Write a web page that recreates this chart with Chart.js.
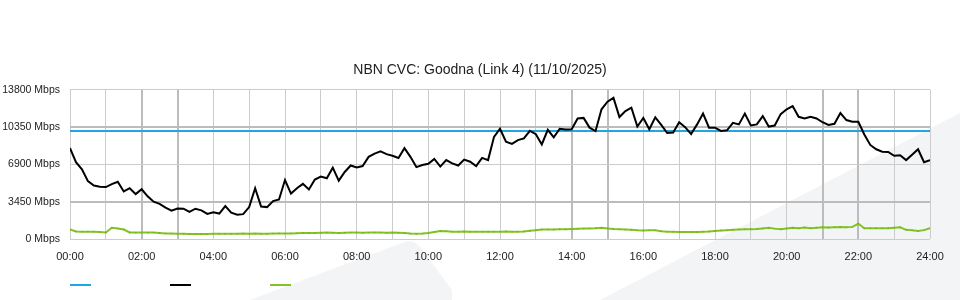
<!DOCTYPE html>
<html>
<head>
<meta charset="utf-8">
<title>NBN CVC: Goodna (Link 4)</title>
<script src="https://cdn.jsdelivr.net/npm/chart.js@4.4.1/dist/chart.umd.min.js"></script>
<style>
  html, body { margin: 0; padding: 0; background: #fff; }
  canvas { display: block; }
</style>
</head>
<body>
<canvas id="cvcChart" width="960" height="300"></canvas>
<script>
// one sample every 10 minutes, 00:00 .. 24:00
const stepMinutes = 10;

const cvcCapacityMbps = [10000, 10000];

const downMbps = [
  8410, 7100, 6450, 5350, 4950, 4830, 4800, 5080, 5300, 4400,
  4700, 4150, 4600, 3950, 3450, 3250, 2900, 2620, 2820, 2800,
  2500, 2800, 2650, 2320, 2480, 2350, 3050, 2430, 2250, 2300,
  2950, 4700, 3000, 2950, 3500, 3660, 5450, 4200, 4700, 5100,
  4580, 5500, 5780, 5620, 6600, 5400, 6200, 6800, 6620, 6750,
  7600, 7900, 8100, 7850, 7700, 7500, 8400, 7600, 6650, 6850,
  6960, 7400, 6700, 7300, 7000, 6800, 7350, 7150, 6750, 7500,
  7300, 9450, 10200, 9000, 8800, 9150, 9300, 10000, 9700, 8750,
  10100, 9400, 10200, 10130, 10150, 11150, 11200, 10300, 9980, 12000,
  12700, 13050, 11280, 11830, 12150, 10400, 11200, 10150, 11250, 10550,
  9800, 9850, 10800, 10350, 9700, 10600, 11600, 10300, 10300, 10000,
  10050, 10750, 10600, 11600, 10500, 10600, 11370, 10400, 10500, 11550,
  12000, 12300, 11300, 11150, 11300, 11150, 10800, 10550, 10650, 11650,
  11000, 10850, 10840, 9670, 8700, 8300, 8070, 8050, 7700, 7750,
  7300, 7800, 8300, 7100, 7300
];

const upMbps = [
  890, 700, 680, 680, 660, 640, 600, 1040, 980, 880,
  600, 590, 590, 590, 590, 560, 520, 500, 490, 490,
  460, 460, 460, 470, 480, 490, 490, 480, 490, 500,
  490, 500, 490, 480, 500, 520, 500, 520, 540, 560,
  560, 560, 580, 590, 580, 560, 580, 590, 590, 580,
  590, 600, 590, 580, 590, 580, 560, 500, 490, 500,
  560, 650, 740, 720, 680, 670, 690, 670, 680, 660,
  670, 670, 680, 690, 670, 680, 700, 760, 820, 880,
  890, 880, 900, 900, 920, 940, 960, 980, 1000, 1040,
  980, 930, 900, 880, 860, 800, 780, 800, 800, 720,
  680, 660, 640, 640, 640, 650, 680, 700, 740, 780,
  820, 860, 890, 900, 900, 920, 980, 1040, 960, 900,
  980, 1040, 1000, 1060, 1000, 1040, 1080, 1060, 1080, 1100,
  1080, 1120, 1410, 1000, 990, 1000, 1000, 1000, 1040, 1080,
  850, 800, 740, 820, 990
];

const xTickLabels = ['00:00', '02:00', '04:00', '06:00', '08:00', '10:00', '12:00',
  '14:00', '16:00', '18:00', '20:00', '22:00', '24:00'];
const yTicks = [0, 3450, 6900, 10350, 13800];

// gridlines that come out heavier in the original image
const heavyHours = [2, 3, 14, 15, 21, 22];
const heavyLevels = [3450, 10350];

function toPoints(values, minutes) {
  return values.map((v, i) => ({ x: i * minutes / 60, y: v }));
}

const fontFamily = 'Arial, "Liberation Sans", sans-serif';

// light grey swoosh behind the plot
const backdrop = {
  id: 'backdrop',
  beforeDraw(chart) {
    const ctx = chart.ctx;
    ctx.save();
    ctx.fillStyle = '#f3f4f6';
    ctx.beginPath();
    ctx.moveTo(250, 300);
    ctx.lineTo(402, 243);
    ctx.quadraticCurveTo(413, 238, 420, 247);
    ctx.lineTo(452, 290);
    ctx.lineTo(452, 300);
    ctx.closePath();
    ctx.fill();
    ctx.beginPath();
    ctx.moveTo(600, 300);
    ctx.lineTo(960, 113);
    ctx.lineTo(960, 300);
    ctx.closePath();
    ctx.fill();
    ctx.restore();
  }
};

// legend of bare line swatches under the axis
const swatchLegend = {
  id: 'swatchLegend',
  afterDraw(chart) {
    const ctx = chart.ctx;
    const left = chart.chartArea.left;
    ctx.save();
    ctx.lineWidth = 2;
    chart.data.datasets.forEach((ds, i) => {
      ctx.strokeStyle = ds.borderColor;
      ctx.beginPath();
      ctx.moveTo(left + i * 100, 285);
      ctx.lineTo(left + i * 100 + 21, 285);
      ctx.stroke();
    });
    ctx.restore();
  }
};

const ctx = document.getElementById('cvcChart').getContext('2d');

const cvcChart = new Chart(ctx, {
  type: 'line',
  data: {
    datasets: [{
      label: 'CVC capacity',
      data: [{ x: 0, y: cvcCapacityMbps[0] }, { x: 24, y: cvcCapacityMbps[1] }],
      borderColor: '#22a6e0',
      borderWidth: 2,
      pointRadius: 0,
      order: 1
    }, {
      label: 'Download',
      data: toPoints(downMbps, stepMinutes),
      borderColor: '#000000',
      borderWidth: 2,
      pointRadius: 0,
      tension: 0,
      order: 0
    }, {
      label: 'Upload',
      data: toPoints(upMbps, stepMinutes),
      borderColor: '#84c225',
      backgroundColor: '#72b31c',
      borderWidth: 2,
      pointRadius: 1,
      pointStyle: 'rect',
      pointBorderWidth: 0,
      tension: 0,
      order: 2
    }]
  },
  options: {
    responsive: false,
    animation: false,
    events: [],
    layout: {
      padding: 0
    },
    plugins: {
      legend: { display: false },
      tooltip: { enabled: false },
      title: {
        display: true,
        text: 'NBN CVC: Goodna (Link 4) (11/10/2025)',
        color: '#222',
        font: { family: fontFamily, size: 14, weight: 'normal' },
        padding: { top: 62, bottom: 11 }
      }
    },
    scales: {
      x: {
        type: 'linear',
        min: 0,
        max: 24,
        afterFit: (s) => { s.height = 61; },
        border: { display: false },
        grid: {
          drawTicks: false,
          color: (c) => heavyHours.includes(c.tick.value) ? '#bcbcbc' : '#cccccc',
          lineWidth: (c) => heavyHours.includes(c.tick.value) ? 2 : 1
        },
        ticks: {
          stepSize: 1,
          autoSkip: false,
          maxRotation: 0,
          padding: 11,
          color: '#222',
          font: { family: fontFamily, size: 11 },
          callback: (v) => v % 2 === 0 ? xTickLabels[v / 2] : ''
        }
      },
      y: {
        min: yTicks[0],
        max: yTicks[yTicks.length - 1],
        afterFit: (s) => { s.width = 70; },
        afterBuildTicks: (s) => { s.ticks = yTicks.map(v => ({ value: v })); },
        border: { display: false },
        grid: {
          drawTicks: false,
          color: (c) => heavyLevels.includes(c.tick.value) ? '#bcbcbc' : '#cccccc',
          lineWidth: (c) => heavyLevels.includes(c.tick.value) ? 2 : 1
        },
        ticks: {
          padding: 10,
          color: '#222',
          font: { family: fontFamily, size: 10.5 },
          callback: (v) => v + ' Mbps'
        }
      },
      // empty strip on the right so the plot ends at the same place as the original
      yRight: {
        position: 'right',
        display: true,
        afterFit: (s) => { s.width = 30; },
        border: { display: false },
        grid: { display: false, drawOnChartArea: false },
        ticks: { display: false }
      }
    }
  },
  plugins: [backdrop, swatchLegend]
});
</script>
</body>
</html>
